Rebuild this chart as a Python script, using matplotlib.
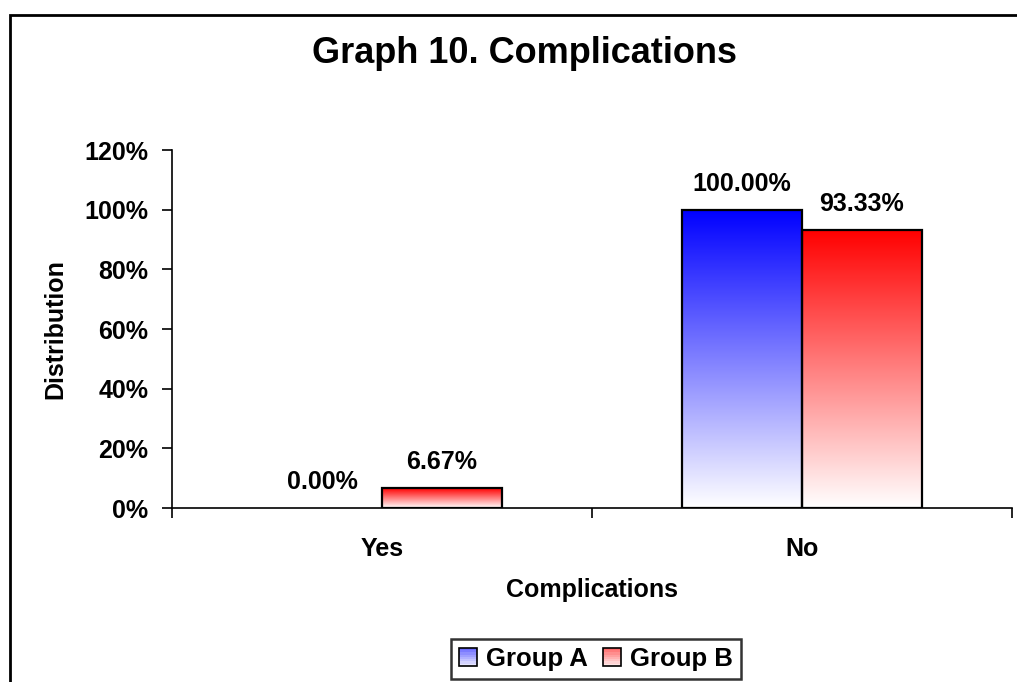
import matplotlib.pyplot as plt
import numpy as np
from matplotlib.patches import Rectangle
from matplotlib.legend_handler import HandlerBase
from matplotlib.colors import LinearSegmentedColormap

plt.rcParams['font.family'] = ['Liberation Sans', 'DejaVu Sans']
plt.rcParams['font.weight'] = 'bold'

categories = ['Yes', 'No']
groups = ['Group A', 'Group B']
group_a = [0.0, 100.0]
group_b = [6.67, 93.33]
colors = ['#0000ff', '#ff0000']
yticks = [0, 20, 40, 60, 80, 100, 120]

width = 0.285
fig = plt.figure(figsize=(10.17, 6.82), dpi=100)
ax = fig.add_axes([0.1691, 0.2551, 0.8259, 0.5249])

x = np.arange(len(categories))


def gradient_bar(ax, x0, h, color):
    # white at the base, full colour at the top of each bar
    cmap = LinearSegmentedColormap.from_list('g', ['white', color])
    grad = np.linspace(0, 1, 256).reshape(-1, 1)
    ax.imshow(grad, extent=(x0, x0 + width, 0, h), origin='lower',
              aspect='auto', cmap=cmap, zorder=2)
    ax.add_patch(Rectangle((x0, 0), width, h, fill=False,
                           edgecolor='black', lw=1.6, zorder=3))


for vals, col, off in [(group_a, colors[0], -width), (group_b, colors[1], 0)]:
    for xi, v in zip(x, vals):
        if v > 0:
            gradient_bar(ax, xi + off, v, col)
        ax.annotate(f'{v:.2f}%', (xi + off + width / 2, v), xytext=(0, 13.5),
                    textcoords='offset points', ha='center', va='baseline',
                    fontsize=18, fontweight='bold')

ax.set_xlim(-0.5, 1.5)
ax.set_ylim(0, 120)
ax.set_yticks(yticks)
ax.set_yticklabels([f'{t}%' for t in yticks], fontsize=18, fontweight='bold')
ax.set_xticks(x)
ax.set_xticklabels(categories, fontsize=18, fontweight='bold')
ax.set_xticks([-0.5, 0.5, 1.5], minor=True)
ax.tick_params(axis='x', which='major', length=0, pad=21)
ax.tick_params(axis='x', which='minor', length=7, width=1.2, direction='out')
ax.tick_params(axis='y', length=7, width=1.2, direction='out', pad=10)
for s in ['top', 'right']:
    ax.spines[s].set_visible(False)
for s in ['left', 'bottom']:
    ax.spines[s].set_linewidth(1.2)

ax.set_xlabel('Complications', fontsize=18, fontweight='bold', labelpad=12)
ax.set_ylabel('Distribution', fontsize=18, fontweight='bold', labelpad=12)
fig.text(0.516, 0.921, 'Graph 10. Complications', ha='center', va='center',
         fontsize=26, fontweight='bold')


class GradientHandler(HandlerBase):
    def __init__(self, color):
        super().__init__()
        self.color = color

    def create_artists(self, legend, orig_handle, xdescent, ydescent,
                       width, height, fontsize, trans):
        cmap = LinearSegmentedColormap.from_list('g', ['white', self.color])
        arts = []
        n = 8
        for i in range(n):
            arts.append(Rectangle((-xdescent, -ydescent + height * i / n),
                                  width, height / n, lw=0,
                                  facecolor=cmap(0.1 + 0.55 * i / n),
                                  transform=trans))
        arts.append(Rectangle((-xdescent, -ydescent), width, height,
                              fill=False, edgecolor='black', lw=1.2,
                              transform=trans))
        return arts


handles = [Rectangle((0, 0), 1, 1) for _ in groups]
leg = fig.legend(handles, groups, loc='center', bbox_to_anchor=(0.586, 0.034),
                 ncol=2, fontsize=18.5, frameon=True, fancybox=False,
                 handlelength=0.7, handleheight=0.7, handletextpad=0.35,
                 columnspacing=0.6, borderpad=0.3, borderaxespad=0,
                 handler_map={h: GradientHandler(c) for h, c in zip(handles, colors)})
leg.get_frame().set_edgecolor('black')
leg.get_frame().set_linewidth(1.8)

# chart border
fig.patches.append(Rectangle((10 / 1017, -0.1), 1.2, 1 - 15 / 682 + 0.1,
                             transform=fig.transFigure, fill=False,
                             edgecolor='black', lw=2))

fig.savefig('out.png', dpi=100)
